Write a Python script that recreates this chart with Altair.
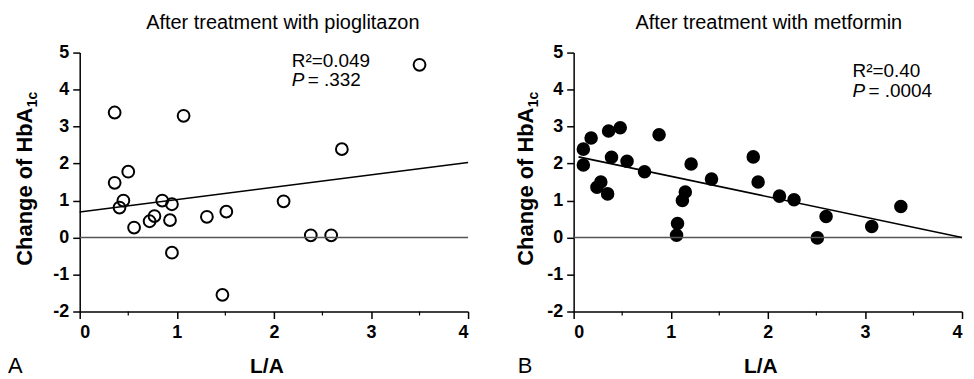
import altair as alt
import pandas as pd

# ---- data ----
pio_x = [0.36, 1.07, 3.50, 2.70, 0.36, 0.50, 0.45, 0.41, 0.56, 0.72, 0.77,
         0.85, 0.95, 0.93, 0.95, 1.31, 1.51, 1.47, 2.10, 2.38, 2.59]
pio_y = [3.38, 3.29, 4.67, 2.39, 1.48, 1.78, 1.00, 0.81, 0.27, 0.44, 0.58,
         1.00, 0.90, 0.47, -0.41, 0.56, 0.70, -1.55, 0.98, 0.06, 0.06]

met_x = [0.10, 0.10, 0.18, 0.24, 0.28, 0.35, 0.36, 0.48, 0.39, 0.55, 0.73,
         0.88, 1.21, 1.06, 1.07, 1.12, 1.15, 1.42, 1.85, 1.90, 2.12, 2.27,
         2.51, 2.60, 3.07, 3.37]
met_y = [2.39, 1.96, 2.69, 1.36, 1.50, 1.18, 2.88, 2.97, 2.17, 2.06, 1.78,
         2.78, 1.99, 0.06, 0.38, 1.00, 1.23, 1.58, 2.18, 1.50, 1.12, 1.02,
         -0.01, 0.57, 0.30, 0.84]

pio_fit_x = [0.0, 4.0]
pio_fit_y = [0.69, 2.03]
met_fit_x = [0.05, 4.0]
met_fit_y = [2.18, 0.0]

zero_x = [0.0, 4.0]
zero_y = [0.0, 0.0]
minor_x = [0.5, 1.5, 2.5, 3.5]

x_ticks = [0, 1, 2, 3, 4]
y_ticks = [-2, -1, 0, 1, 2, 3, 4, 5]

titles = ["After treatment with pioglitazon", "After treatment with metformin"]
letters = ["A", "B"]
r2_text = ["R\u00b2=0.049", "R\u00b2=0.40"]
p_text = ["= .332", "= .0004"]
x_title = "L/A"
y_title_main = "Change of HbA"
y_title_sub = "1c"

W, H = 390, 260
FONT = "Liberation Sans"

x_scale = alt.Scale(domain=[0, 4], nice=False, zero=False)
y_scale = alt.Scale(domain=[-2, 5], nice=False, zero=False)

axis_common = dict(
    labelFont=FONT, labelFontWeight="bold", labelFontSize=18, labelColor="black",
    tickColor="black", tickWidth=1.5, tickSize=7, domainColor="black",
    domainWidth=1.5, grid=False, title=None, labelOverlap=False,
    labelExpr="'' + datum.value",
)
x_axis = alt.Axis(values=x_ticks, labelPadding=5, **axis_common)
y_axis = alt.Axis(values=y_ticks, labelPadding=4, **axis_common)


def X(field="x"):
    return alt.X(f"{field}:Q", scale=x_scale, axis=x_axis)


def Y(field="y"):
    return alt.Y(f"{field}:Q", scale=y_scale, axis=y_axis)


def label(text, x, y, size=20, weight="normal", style="normal", align="left",
          angle=0, baseline="alphabetic"):
    return alt.Chart(pd.DataFrame({"t": [text]})).mark_text(
        font=FONT, fontSize=size, fontWeight=weight, fontStyle=style,
        align=align, baseline=baseline, angle=angle, color="black",
    ).encode(x=alt.value(x), y=alt.value(y), text="t:N")


def panel(i, xs, ys, fx, fy, filled, ann_x, ann_y, ytitle_x, title_x, letter_x):
    df = pd.DataFrame({"x": xs, "y": ys})

    zero = alt.Chart(pd.DataFrame({"x": zero_x, "y": zero_y})).mark_line(
        color="#555555", strokeWidth=1.4).encode(x=X(), y=Y())
    fit = alt.Chart(pd.DataFrame({"x": fx, "y": fy})).mark_line(
        color="black", strokeWidth=1.6).encode(x=X(), y=Y())
    minor = alt.Chart(pd.DataFrame({"x": minor_x})).mark_rule(
        color="black", strokeWidth=1.2).encode(
        x=X(), y=alt.value(H), y2=alt.value(H + 4))

    if filled:
        pts = alt.Chart(df).mark_circle(color="black", opacity=1, size=185).encode(
            x=X(), y=Y())
    else:
        pts = alt.Chart(df).mark_point(shape="circle", filled=False, stroke="black",
                                       strokeWidth=2, size=140, opacity=1).encode(
            x=X(), y=Y())

    texts = [
        label(titles[i], title_x, -24, size=20, align="center"),
        label(r2_text[i], ann_x, ann_y, size=19),
        label("P", ann_x, ann_y + 19.5, size=19, style="italic"),
        label(p_text[i], ann_x + 16, ann_y + 19.5, size=19),
        label(x_title, W / 2 - 7, 322, size=21, weight="bold", align="center"),
        label(letters[i], letter_x, 322, size=22),
        label(y_title_main, ytitle_x, 214, size=22, weight="bold", angle=270),
        label(y_title_sub, ytitle_x + 5, 214 - 159, size=14, weight="bold", angle=270),
    ]
    return alt.layer(pts, zero, fit, minor, *texts).properties(width=W, height=H)


pA = panel(0, pio_x, pio_y, pio_fit_x, pio_fit_y, False, 213, 14, -48, 204, -72)
pB = panel(1, met_x, met_y, met_fit_x, met_fit_y, True, 280, 25, -41, 196, -56)

chart = alt.hconcat(pA, pB, spacing=42).configure_view(stroke=None).properties(
    padding={"top": 4, "left": 0, "right": 0, "bottom": 0})

chart.save("out.html", embed_options={"renderer": "svg", "actions": False})
